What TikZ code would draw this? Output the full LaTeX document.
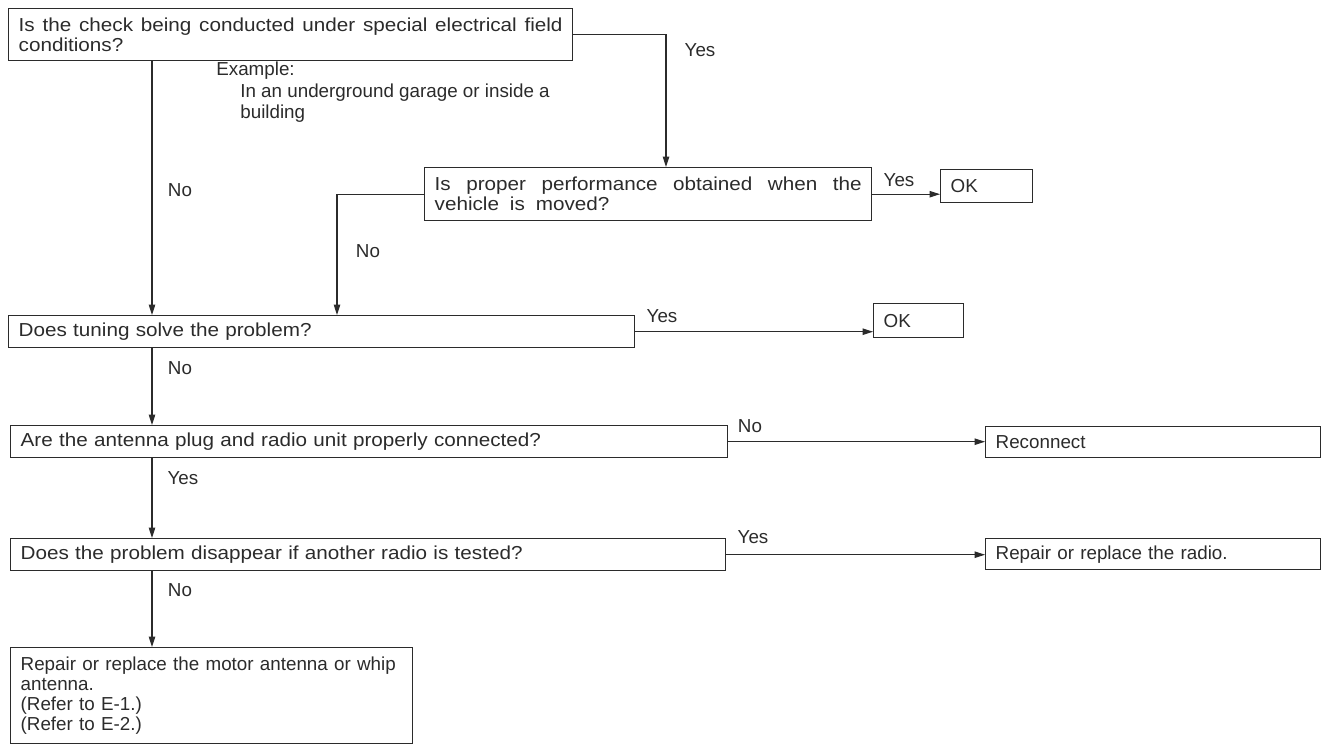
\documentclass[tikz,border=0pt]{standalone}
\usepackage{fontspec}
\setmainfont{Liberation Sans}
\newfontfamily\widesans{Liberation Sans}[FakeStretch=1.1,WordSpace=1.9]
\usepackage{tikz}
\usetikzlibrary{arrows.meta,positioning}
\definecolor{ink}{HTML}{2B2B2B}

\begin{document}
\begin{tikzpicture}[x=0.02cm, y=-0.02cm,
  every node/.style={font=\fontsize{10.7}{11.3}\selectfont, text=ink},
  qbox/.style={draw=ink, line width=0.8pt, anchor=north west,
    inner xsep=0.2cm, inner ysep=0pt, align=left},
  ask/.style={qbox, font=\widesans\fontsize{10.7}{11.3}\selectfont},
  tag/.style={inner sep=0pt},
  flow/.style={->, draw=ink, line width=0.6pt},
  >={Triangle[length=2.1mm,width=1.3mm]}]
\useasboundingbox (0,0) rectangle (1327,744);
\coordinate (spine) at (152,0);
\coordinate (tap) at (337,0);
\coordinate (drop) at (666,0);
% question boxes
\node[ask,align=justify,text width=10.88cm,minimum height=1.04cm] (field) at (8,8)
  {Is the check being conducted under special electrical field\linebreak conditions?};
\node[ask,align=justify,text width=8.54cm,minimum height=1.06cm] (moved) at (424,167)
  {Is proper performance obtained when the\linebreak vehicle is moved?};
\node[ask,text width=12.12cm,minimum height=0.64cm] (tuning) at (8,315)
  {Does tuning solve the problem?};
\node[ask,text width=13.94cm,minimum height=0.64cm] (plug) at (10,425)
  {Are the antenna plug and radio unit properly connected?};
\node[ask,text width=13.9cm,minimum height=0.64cm] (radio) at (10,538)
  {Does the problem disappear if another radio is tested?};
% result boxes
\node[qbox,text width=1.44cm,minimum height=0.66cm] (ok1) at (940,169) {OK};
\node[qbox,text width=1.4cm,minimum height=0.68cm] (ok2) at (873,303) {OK};
\node[qbox,text width=6.3cm,minimum height=0.62cm] (reconn) at (985,426) {Reconnect};
\node[qbox,text width=6.3cm,minimum height=0.62cm] (fixradio) at (985,538)
  {Repair or replace the radio.};
\node[qbox,text width=7.64cm,minimum height=1.92cm] (fixant) at (10,647)
  {Repair or replace the motor antenna or whip\\ antenna.\\ (Refer to E-1.)\\ (Refer to E-2.)};
% note under the first question
\node[tag,anchor=north west,align=left,font=\fontsize{10.7}{12}\selectfont]
  (example) at (216,62)
  {Example:\\ \hspace*{0.48cm}In an underground garage or inside a\\ \hspace*{0.48cm}building};
% connectors
\draw[flow] (field.east) -| (moved.north -| drop);
\draw[flow] (field.south -| spine) -- (tuning.north -| spine);
\draw[flow] (moved.west) -| (tuning.north -| tap);
\draw[flow] (moved.east) -- (moved.east -| ok1.west);
\draw[flow] (tuning.east) -- (tuning.east -| ok2.west);
\draw[flow] (tuning.south -| spine) -- (plug.north -| spine);
\draw[flow] (plug.east) -- (plug.east -| reconn.west);
\draw[flow] (plug.south -| spine) -- (radio.north -| spine);
\draw[flow] (radio.east) -- (radio.east -| fixradio.west);
\draw[flow] (radio.south -| spine) -- (fixant.north -| spine);
% yes / no labels
\node[tag] (yes1) at (700,50) {Yes};
\node[tag] (no1) at (180,190) {No};
\node[tag] (yes2) at (899,180) {Yes};
\node[tag] (no2) at (368,251) {No};
\node[tag] (yes3) at (662,316) {Yes};
\node[tag] (no3) at (180,368) {No};
\node[tag] (no4) at (750,426) {No};
\node[tag] (yes4) at (183,478) {Yes};
\node[tag] (yes5) at (753,537) {Yes};
\node[tag] (no5) at (180,590) {No};
\end{tikzpicture}
\end{document}
